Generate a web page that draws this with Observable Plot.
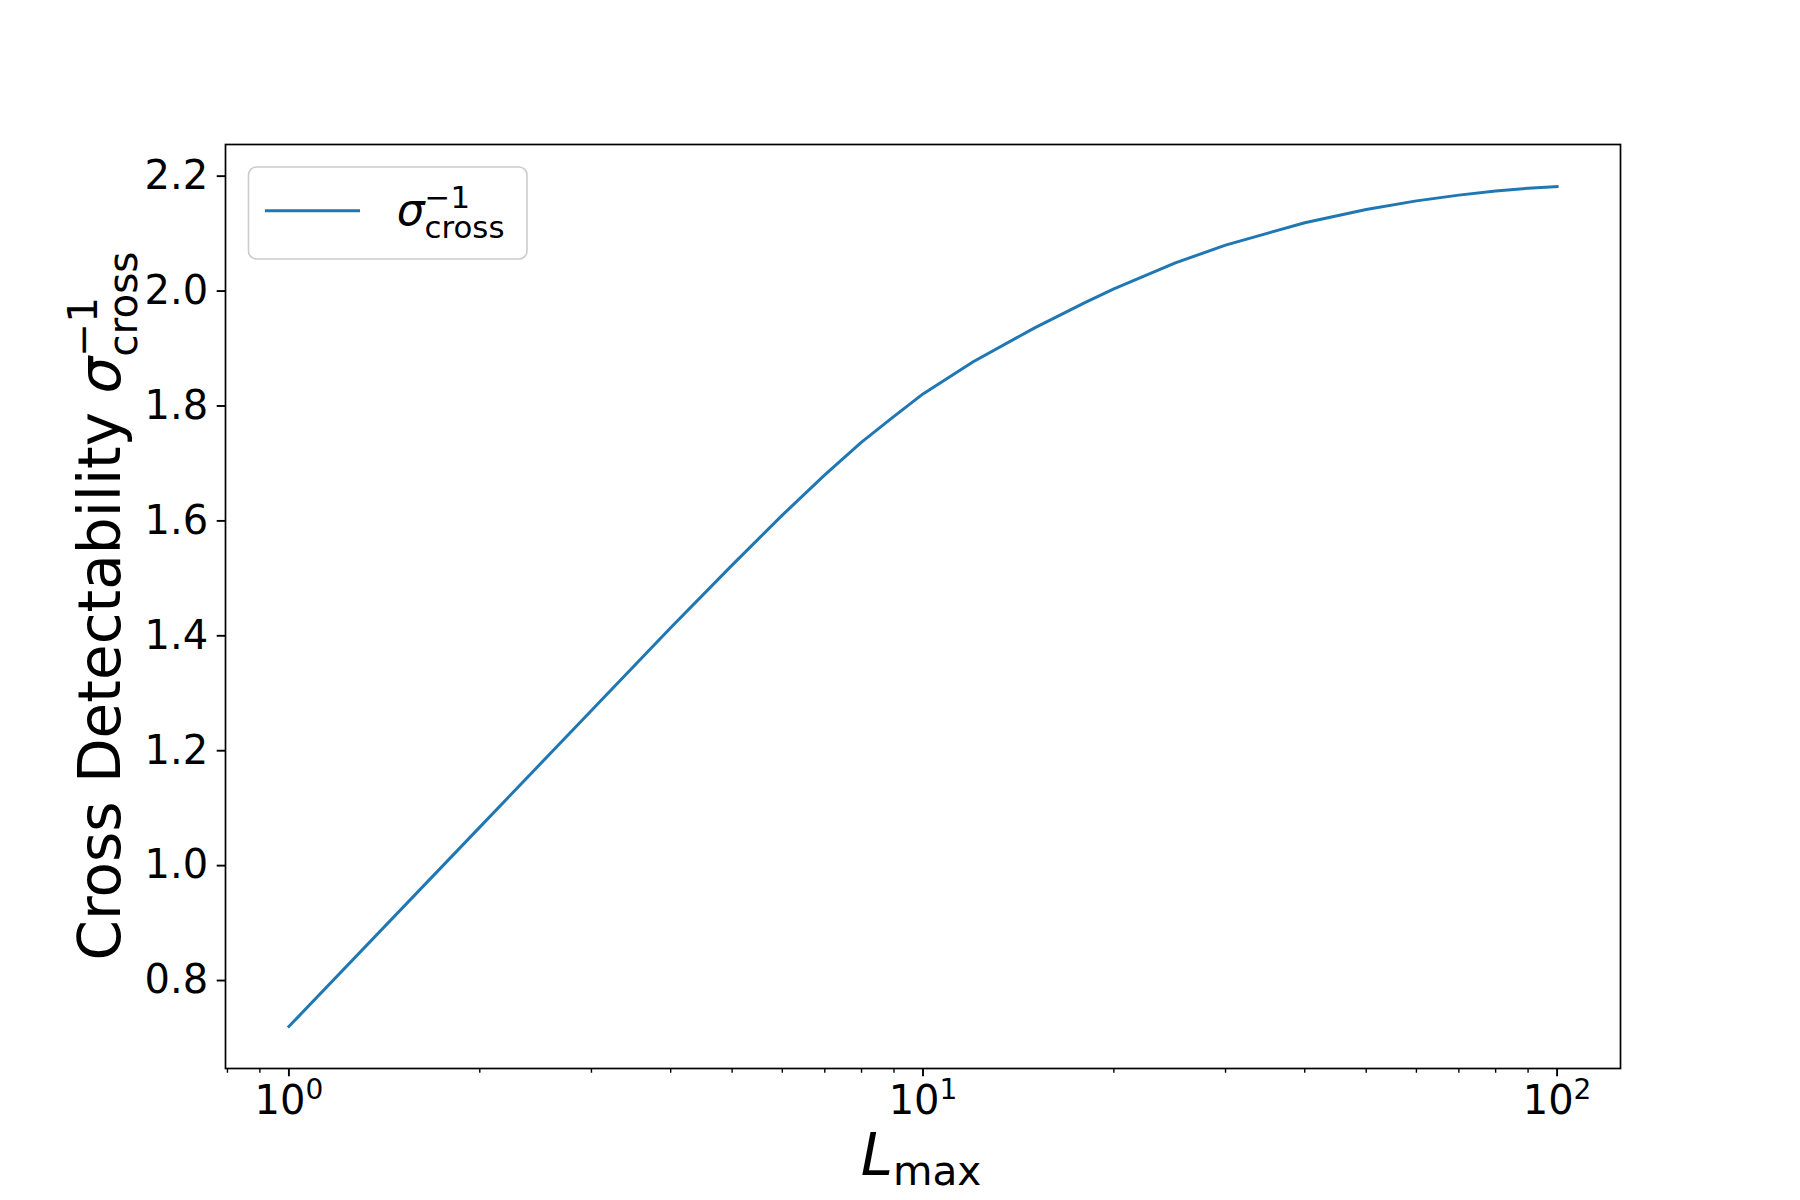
<!DOCTYPE html>
<html>
<head>
<meta charset="utf-8">
<script src="https://cdn.jsdelivr.net/npm/d3@7"></script>
<script src="https://cdn.jsdelivr.net/npm/@observablehq/plot@0.6"></script>
<style>
  html, body { margin: 0; padding: 0; background: #fff; }
  #chart { position: relative; width: 1800px; height: 1200px; }
</style>
</head>
<body>
<div id="chart"></div>
<script>
// ---- data ----
const Lmax = [1, 2, 3, 4, 5, 6, 7, 8, 9, 10, 12, 15, 18, 20, 25, 30, 40, 50, 60, 70, 80, 90, 100];
const sigmaInvCross = [0.720, 1.067, 1.270, 1.414, 1.523, 1.610, 1.680, 1.737, 1.782, 1.821,
                       1.877, 1.936, 1.980, 2.004, 2.049, 2.080, 2.119, 2.142, 2.157, 2.167,
                       2.174, 2.179, 2.182];
const yTicks = [0.8, 1.0, 1.2, 1.4, 1.6, 1.8, 2.0, 2.2];
const xMajorTicks = [1, 10, 100];
const xMinorTicks = [0.8, 0.9, 2, 3, 4, 5, 6, 7, 8, 9, 20, 30, 40, 50, 60, 70, 80, 90];
const xLabelMain = "L", xLabelSub = "max";
const yLabelText = "Cross Detectability ";
const sigmaSymbol = "σ", supText = "−1", subText = "cross";
const lineColor = "#1f77b4";

const data = Lmax.map((L, i) => ({L, v: sigmaInvCross[i]}));

// matplotlib-like 5% autoscale margins
const [yMin, yMax] = d3.extent(sigmaInvCross);
const yPad = 0.05 * (yMax - yMin);
const [lxMin, lxMax] = d3.extent(Lmax).map(Math.log10);
const lxPad = 0.05 * (lxMax - lxMin);

const FS = 40;
const plot = Plot.plot({
  width: 1800,
  height: 1200,
  marginLeft: 225,
  marginRight: 180,
  marginTop: 144,
  marginBottom: 132,
  style: {fontFamily: "'DejaVu Sans', sans-serif", fontSize: FS + "px", background: "#fff", color: "#000", overflow: "visible"},
  x: {type: "log", domain: [Math.pow(10, lxMin - lxPad), Math.pow(10, lxMax + lxPad)], label: null},
  y: {domain: [yMin - yPad, yMax + yPad], label: null},
  marks: [
    Plot.axisY({ticks: yTicks, tickSize: 8.3, tickPadding: 9, strokeWidth: 1.9, tickFormat: d => d.toFixed(1), label: null, fontSize: FS}),
    Plot.axisX({ticks: xMinorTicks, tickSize: 4.75, strokeWidth: 1.4, tickFormat: () => "", label: null}),
    Plot.axisX({ticks: xMajorTicks, tickSize: 8.3, tickPadding: 9, strokeWidth: 1.9,
                tickFormat: d => "10^" + Math.round(Math.log10(d)), label: null, fontSize: FS}),
    Plot.line(data, {x: "L", y: "v", stroke: lineColor, strokeWidth: 3, strokeLinecap: "square"}),
    Plot.frame({stroke: "#000", strokeWidth: 1.7})
  ]
});
document.getElementById("chart").appendChild(plot);

const svg = d3.select(plot);

// superscript exponents on x tick labels
svg.selectAll("text").each(function () {
  const t = this.textContent;
  if (/^10\^/.test(t)) {
    const e = t.slice(3);
    const s = d3.select(this);
    s.text("10");
    s.append("tspan").attr("font-size", FS * 0.7).attr("dy", -15.5).text(e);
  }
});

const LFS = 58;
// x label
const xl = svg.append("text")
  .attr("x", 921).attr("y", 1175)
  .attr("text-anchor", "middle")
  .attr("font-family", "'DejaVu Sans', sans-serif")
  .attr("font-size", LFS).attr("fill", "#000");
xl.append("tspan").attr("font-style", "italic").text(xLabelMain);
xl.append("tspan").attr("font-size", LFS * 0.7).attr("dy", 10).text(xLabelSub);

// y label (rotated)
const yl = svg.append("text")
  .attr("transform", "translate(120,606) rotate(-90)")
  .attr("text-anchor", "middle")
  .attr("font-family", "'DejaVu Sans', sans-serif")
  .attr("font-size", LFS).attr("fill", "#000");
yl.append("tspan").text(yLabelText);
yl.append("tspan").attr("font-style", "italic").text(sigmaSymbol);
const ySup = yl.append("tspan").attr("font-size", LFS * 0.7).attr("dy", -22.6).text(supText);
const supW = ySup.node().getComputedTextLength();
yl.append("tspan").attr("font-size", LFS * 0.7).attr("dx", -supW).attr("dy", 22.6 + 17).text(subText);

// legend
const lg = svg.append("g");
lg.append("rect")
  .attr("x", 248.5).attr("y", 167).attr("width", 278.5).attr("height", 92)
  .attr("rx", 8).attr("ry", 8)
  .attr("fill", "#fff").attr("fill-opacity", 0.8)
  .attr("stroke", "#cccccc").attr("stroke-width", 1.6);
lg.append("line")
  .attr("x1", 265).attr("x2", 360).attr("y1", 210.7).attr("y2", 210.7)
  .attr("stroke", lineColor).attr("stroke-width", 3);
const LGFS = 44;
const lt = lg.append("text")
  .attr("x", 396.7).attr("y", 225)
  .attr("text-anchor", "start")
  .attr("font-family", "'DejaVu Sans', sans-serif")
  .attr("font-size", LGFS).attr("fill", "#000");
lt.append("tspan").attr("font-style", "italic").text(sigmaSymbol);
const lSup = lt.append("tspan").attr("font-size", LGFS * 0.7).attr("dy", -17).text(supText);
const lSupW = lSup.node().getComputedTextLength();
lt.append("tspan").attr("font-size", LGFS * 0.7).attr("dx", -lSupW).attr("dy", 30).text(subText);
</script>
</body>
</html>
